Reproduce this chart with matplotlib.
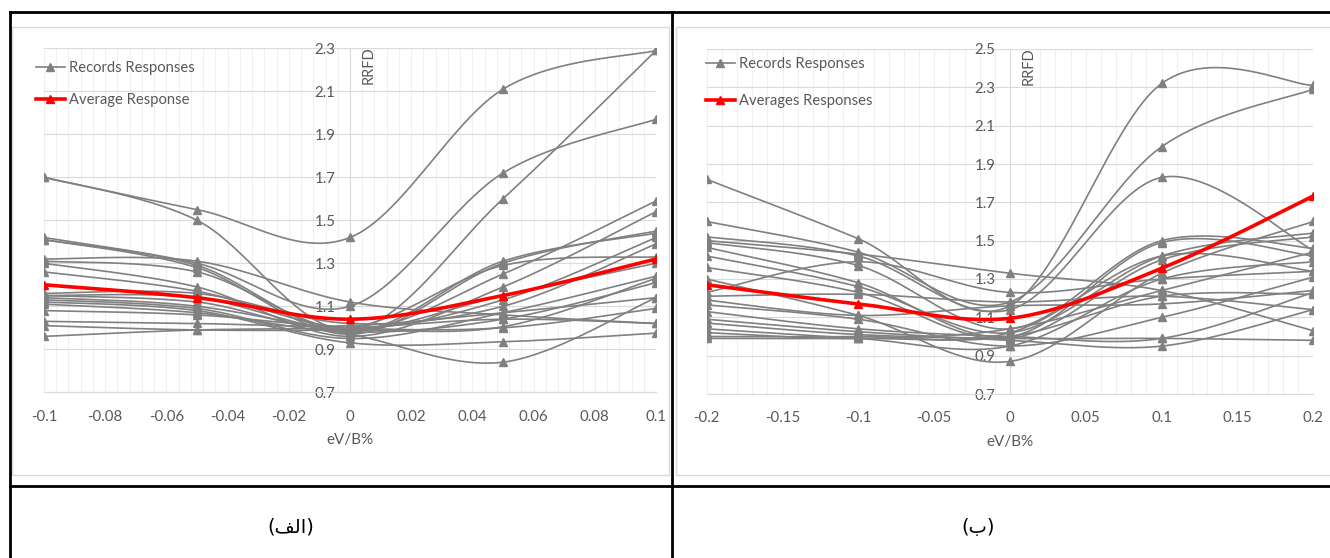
import matplotlib
matplotlib.use("Agg")
import matplotlib.pyplot as plt
import numpy as np

plt.rcParams['font.family'] = ['Lato', 'DejaVu Sans']
plt.rcParams['axes.unicode_minus'] = False

# --- panel (الف) ---
x_a = [-0.1, -0.05, 0, 0.05, 0.1]
records_a = [
    [1.70, 1.55, 1.42, 2.11, 2.29],
    [1.70, 1.50, 0.99, 1.60, 2.29],
    [1.42, 1.30, 1.10, 1.72, 1.97],
    [1.41, 1.29, 0.98, 1.31, 1.44],
    [1.41, 1.28, 0.97, 1.30, 1.45],
    [1.32, 1.31, 1.12, 1.06, 1.02],
    [1.31, 1.26, 0.99, 1.25, 1.59],
    [1.30, 1.19, 0.96, 1.19, 1.54],
    [1.26, 1.17, 1.00, 1.13, 1.42],
    [1.16, 1.16, 1.02, 1.10, 1.39],
    [1.15, 1.12, 1.00, 1.29, 1.33],
    [1.14, 1.10, 0.97, 0.84, 1.14],
    [1.13, 1.09, 0.95, 1.07, 1.24],
    [1.12, 1.08, 0.93, 0.935, 0.975],
    [1.11, 1.07, 0.98, 1.04, 1.21],
    [1.08, 1.06, 1.00, 1.00, 1.09],
    [1.03, 1.02, 1.01, 1.07, 1.14],
    [1.01, 0.99, 0.99, 1.005, 1.23],
    [0.96, 0.99, 1.00, 1.04, 1.02],
    [1.15, 1.14, 0.99, 1.15, 1.30],
]
average_a = [1.20, 1.14, 1.04, 1.15, 1.32]
xticks_a = [-0.1, -0.08, -0.06, -0.04, -0.02, 0, 0.02, 0.04, 0.06, 0.08, 0.1]
yticks_a = [0.7, 0.9, 1.1, 1.3, 1.5, 1.7, 1.9, 2.1, 2.3]

# --- panel (ب) ---
x_b = [-0.2, -0.1, 0, 0.1, 0.2]
records_b = [
    [1.82, 1.51, 1.16, 2.32, 2.31],
    [1.60, 1.44, 1.18, 1.99, 2.29],
    [1.52, 1.42, 1.14, 1.83, 1.45],
    [1.50, 1.43, 1.33, 1.24, 1.03],
    [1.49, 1.37, 1.04, 1.50, 1.46],
    [1.465, 1.28, 1.00, 1.49, 1.42],
    [1.42, 1.26, 1.02, 1.42, 1.54],
    [1.36, 1.23, 0.99, 1.40, 1.52],
    [1.30, 1.11, 0.87, 1.33, 1.60],
    [1.23, 1.39, 1.23, 1.30, 1.34],
    [1.21, 1.22, 1.18, 1.21, 1.14],
    [1.19, 1.11, 1.16, 1.17, 1.24],
    [1.165, 1.09, 0.95, 1.10, 1.31],
    [1.13, 1.04, 1.00, 0.99, 1.23],
    [1.09, 1.025, 0.98, 0.95, 1.14],
    [1.07, 1.01, 0.99, 0.99, 0.98],
    [1.04, 0.99, 0.95, 1.30, 1.39],
    [1.02, 0.99, 1.04, 1.24, 1.44],
    [1.00, 1.00, 1.02, 1.42, 1.34],
    [0.99, 0.99, 1.00, 1.21, 1.22],
]
average_b = [1.27, 1.17, 1.095, 1.356, 1.733]
xticks_b = [-0.2, -0.15, -0.1, -0.05, 0, 0.05, 0.1, 0.15, 0.2]
yticks_b = [0.7, 0.9, 1.1, 1.3, 1.5, 1.7, 1.9, 2.1, 2.3, 2.5]

GREY = '#808080'
TXT = '#595959'
W, H = 1330, 558


def smooth(x, y, n=40):
    # excel style smoothed line (catmull-rom as bezier)
    x = np.asarray(x, float)
    y = np.asarray(y, float)
    px = np.concatenate([[x[0]], x, [x[-1]]])
    py = np.concatenate([[y[0]], y, [y[-1]]])
    t = np.linspace(0, 1, n)
    xs, ys = [], []
    for i in range(len(x) - 1):
        p0 = np.array([px[i + 1], py[i + 1]])
        p3 = np.array([px[i + 2], py[i + 2]])
        c1 = p0 + (np.array([px[i + 2], py[i + 2]]) - np.array([px[i], py[i]])) / 6
        c2 = p3 - (np.array([px[i + 3], py[i + 3]]) - np.array([px[i + 1], py[i + 1]])) / 6
        b = ((1 - t) ** 3)[:, None] * p0 + (3 * (1 - t) ** 2 * t)[:, None] * c1 \
            + (3 * (1 - t) * t ** 2)[:, None] * c2 + (t ** 3)[:, None] * p3
        xs.append(b[:, 0])
        ys.append(b[:, 1])
    return np.concatenate(xs), np.concatenate(ys)


def fmt(v):
    return f"{round(v, 3):g}"


def panel(rect, xs, records, avg, xticks, yticks, minor_step, avg_label, leg_y, leg_gap, leg_x):
    l, t, r, b = rect
    ax = fig.add_axes([l / W, 1 - b / H, (r - l) / W, (b - t) / H])
    for rec in records:
        sx, sy = smooth(xs, rec)
        ax.plot(sx, sy, color=GREY, lw=1.2, zorder=2)
        ax.plot(xs, rec, ls='none', marker='^', ms=5.8, color=GREY, zorder=3)
    sx, sy = smooth(xs, avg)
    ax.plot(sx, sy, color='red', lw=2.6, zorder=4)
    ax.plot(xs, avg, ls='none', marker='^', ms=6.2, color='red', zorder=5)

    ax.set_xlim(xticks[0], xticks[-1])
    ax.set_ylim(yticks[0], yticks[-1])
    ax.set_xticks(xticks)
    ax.set_xticklabels([fmt(v) for v in xticks])
    ax.set_yticks(yticks)
    ax.set_yticklabels([f"{v:.1f}" for v in yticks])
    ax.set_xticks(np.arange(xticks[0], xticks[-1] + 1e-9, minor_step), minor=True)
    ax.grid(which='both', axis='x', color='#f0f0f0', lw=0.8, zorder=0)
    ax.grid(which='major', axis='y', color='#dadada', lw=0.8, zorder=0)
    ax.set_axisbelow(True)
    for s in ['top', 'right']:
        ax.spines[s].set_visible(False)
    ax.spines['left'].set_position(('data', 0))
    ax.spines['left'].set_color('#dadada')
    ax.spines['bottom'].set_color('#dadada')
    ax.tick_params(which='both', length=0)
    ax.tick_params(axis='x', pad=12.5, labelsize=10.8, labelcolor=TXT)
    ax.tick_params(axis='y', pad=10.5, labelsize=10.8, labelcolor=TXT)
    ax.patch.set_alpha(0)

    ax.text(0, 1, 'RRFD', rotation=90, ha='left', va='top', fontsize=10.5, color=TXT,
            transform=ax.get_xaxis_transform() + matplotlib.transforms.ScaledTranslation(12 / 100, 2 / 100, fig.dpi_scale_trans))
    ax.text(0.5, -48 / (b - t), 'eV/B%', ha='center', va='center', fontsize=11, color=TXT,
            transform=ax.transAxes)

    ax.plot([], [], color=GREY, lw=1.2, marker='^', ms=5.8, label='Records Responses')
    ax.plot([], [], color='red', lw=2.6, marker='^', ms=6.2, label=avg_label)
    h, lab = ax.get_legend_handles_labels()
    ax.legend(h[-2:], lab[-2:], loc='upper left', frameon=False, fontsize=10.6,
              bbox_to_anchor=(leg_x / W, 1 - leg_y / H), bbox_transform=fig.transFigure,
              handlelength=1.95, handletextpad=0.3, labelspacing=leg_gap, labelcolor=TXT,
              markerscale=0.9, borderaxespad=0, borderpad=0)
    return ax


fig = plt.figure(figsize=(W / 100, H / 100), dpi=100)

# table frame and chart borders
frame = fig.add_axes([0, 0, 1, 1])
frame.set_xlim(0, W)
frame.set_ylim(H, 0)
frame.axis('off')
frame.add_patch(plt.Rectangle((12, 27), 657, 448, fill=False, ec='#d9d9d9', lw=1))
frame.add_patch(plt.Rectangle((676, 27), 660, 448, fill=False, ec='#d9d9d9', lw=1))
frame.plot([10, W], [12, 12], color='black', lw=2)
frame.plot([10, W], [486, 486], color='black', lw=2)
frame.plot([10, 10], [12, H], color='black', lw=2)
frame.plot([672, 672], [12, H], color='black', lw=2)

panel((44, 48.3, 656, 392.3), x_a, records_a, average_a, xticks_a, yticks_a, 0.004,
      'Average Response', 61, 1.2, 36)
panel((706.7, 49, 1313.3, 394), x_b, records_b, average_b, xticks_b, yticks_b, 0.01,
      'Averages Responses', 57, 1.55, 706)

# captions (arabic presentation forms, visual order)
frame.text(291, 527, '(\uFED2\uFEDF\uFE8D)', ha='center', va='center', fontsize=14,
           family=['DejaVu Sans'], color='black')
frame.text(978, 527, '(\uFE8F)', ha='center', va='center', fontsize=14,
           family=['DejaVu Sans'], color='black')

fig.savefig('out.png', dpi=100)
